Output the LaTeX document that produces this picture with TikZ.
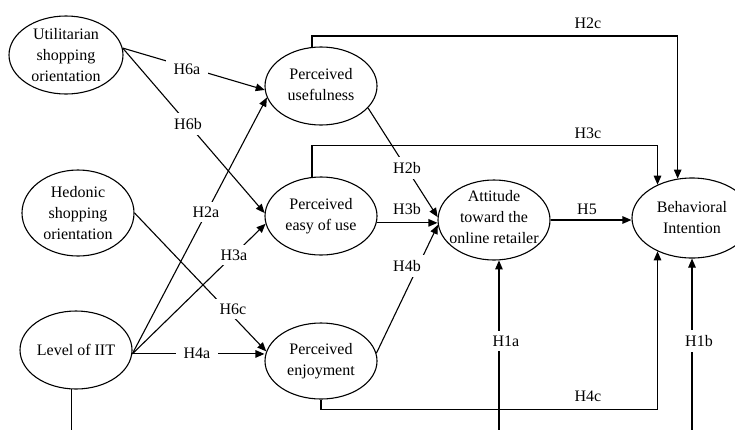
\documentclass[tikz,border=0pt]{standalone}
\usepackage{fontspec}
\setmainfont{Liberation Serif}
\usetikzlibrary{arrows.meta,shapes.geometric}
\begin{document}
\begin{tikzpicture}[x=1pt,y=-1pt,
  every node/.style={font=\fontsize{16}{21}\selectfont},
  box/.style={draw, ellipse, line width=1.1pt, inner sep=0pt, minimum width=112pt, minimum height=78pt},
  txt/.style={align=center, inner sep=0pt},
  conn/.style={line width=1.1pt},
  arr/.style={conn, -{Triangle[length=9pt,width=7.5pt]}},
  lbl/.style={fill=white, inner xsep=8pt, inner ysep=5pt},
  lblp/.style={inner sep=1pt}]
\useasboundingbox (0,0) rectangle (735,429);
\clip (0,0) rectangle (735,429);
\coordinate (bot) at (0,440);
% constructs
\node[box, minimum width=114pt, minimum height=78pt] (util) at (66,55) {};
\node[txt] (utilt) at (util.center) {Utilitarian\\shopping\\orientation};
\node[box, minimum width=112pt, minimum height=86pt] (hed) at (78,213) {};
\node[txt] (hedt) at (hed.center) {Hedonic\\shopping\\orientation};
\node[box, minimum width=112pt, minimum height=78pt] (iit) at (76,350) {};
\node[txt] (iitt) at (iit.center) {Level of IIT};
\node[box] (pu) at (321,86) {};
\node[txt] (put) at ([yshift=1pt]pu.center) {Perceived\\usefulness};
\node[box] (peou) at (321,216) {};
\node[txt] (peout) at (peou.center) {Perceived\\easy of use};
\node[box, minimum height=76pt] (pe) at (321,361) {};
\node[txt] (pet) at (pe.center) {Perceived\\enjoyment};
\node[box, minimum width=112pt, minimum height=80pt] (att) at (494,220) {};
\node[txt] (attt) at ([yshift=3pt]att.center) {Attitude\\toward the\\online retailer};
\node[box, minimum width=120pt, minimum height=80pt] (bi) at (692,218) {};
\node[txt] (bit) at (bi.center) {Behavioral\\Intention};
% connectors
\draw[arr] (util.7) -- (pu.184);
\draw[arr] (util.7) -- (peou.177);
\draw[arr] (hed.east) -- (pe.170);
\draw[arr] (iit.356) -- (pu.192);
\draw[arr] (iit.356) -- (peou.188);
\draw[arr] (iit.356) -- (iit.356 -| pe.west);
\draw[arr] (pu.335) -- (att.177);
\draw[arr] (peou.353) -- (peou.353 -| att.west);
\draw[arr] (pe.8) -- (att.185);
\draw[arr] (att.east) -- (att.east -| bi.west);
\draw[arr] (pu.103) -- ++(0,-11) -| (bi.110);
\draw[arr] (peou.103) -- ++(0,-31.5) -| (bi.136);
\draw[arr] (pe.south) -- ++(0,10) -| (bi.224);
\draw[arr] (att.277 |- bot) -- (att.277);
\draw[arr] (bi.south |- bot) -- (bi.south);
\draw[conn] (iit.263) -- (iit.263 |- bot);
% labels
\node[lbl] (l6a) at (187,69) {H6a};
\node[lbl] (l6b) at (188,124) {H6b};
\node[lbl] (l6c) at (233,309) {H6c};
\node[lbl] (l2a) at (206,212) {H2a};
\node[lbl] (l3a) at (234,255) {H3a};
\node[lbl] (l4a) at (197,353) {H4a};
\node[lbl] (l2b) at (407,168) {H2b};
\node[lblp] (l3b) at (407,209) {H3b};
\node[lbl] (l4b) at (407,266) {H4b};
\node[lblp] (l5) at (587,209) {H5};
\node[lblp] (l2c) at (588,23) {H2c};
\node[lblp] (l3c) at (588,133) {H3c};
\node[lblp] (l4c) at (588,396) {H4c};
\node[lbl] (l1a) at (506,341) {H1a};
\node[lbl] (l1b) at (699,341) {H1b};
\end{tikzpicture}
\end{document}
